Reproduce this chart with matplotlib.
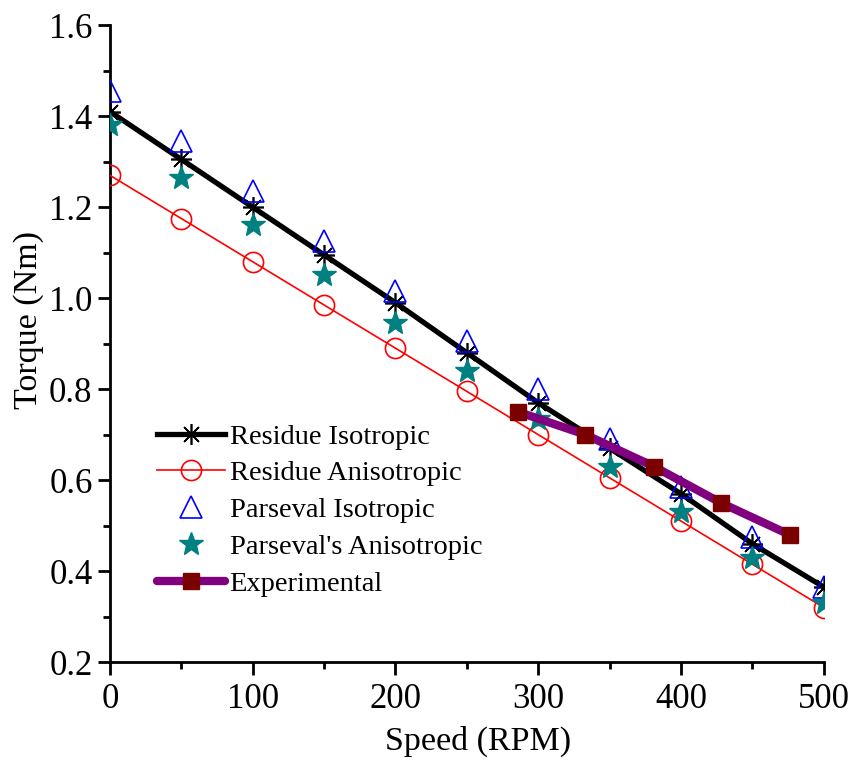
import matplotlib
matplotlib.use('Agg')
import matplotlib.pyplot as plt
import numpy as np

plt.rcParams['font.family'] = ['Liberation Serif', 'DejaVu Serif']

speed = [0, 50, 100, 150, 200, 250, 300, 350, 400, 450, 500]
residue_iso = [1.41, 1.305, 1.20, 1.095, 0.99, 0.88, 0.77, 0.67, 0.57, 0.46, 0.365]
residue_aniso = [1.27, 1.175, 1.08, 0.985, 0.89, 0.795, 0.70, 0.605, 0.51, 0.415, 0.32]
parseval_iso = [1.455, 1.345, 1.235, 1.125, 1.015, 0.905, 0.80, 0.69, 0.585, 0.475, 0.365]
parseval_aniso = [1.38, 1.265, 1.16, 1.05, 0.945, 0.84, 0.735, 0.63, 0.53, 0.43, 0.33]
exp_speed = [286, 333, 381, 428, 476]
exp_torque = [0.75, 0.70, 0.63, 0.55, 0.48]

fig = plt.figure(figsize=(8.52, 7.62), dpi=100)
ax = fig.add_axes([0.129, 0.131, 0.838, 0.836])

ax.plot(speed, residue_iso, color='black', lw=3.8, marker=(8, 2, 0), ms=15,
        mec='black', mew=1.2, label='Residue Isotropic', zorder=3)
ax.plot(speed, residue_aniso, color='red', lw=1.2, marker='o', ms=14.5,
        mfc='none', mec='red', mew=1.2, label='Residue Anisotropic', zorder=3)
ax.plot(speed, parseval_iso, ls='none', marker='^', ms=15.5,
        mfc='none', mec='blue', mew=1.2, label='Parseval Isotropic', zorder=4)
ax.plot(speed, parseval_aniso, ls='none', marker='*', ms=18,
        mfc='#008080', mec='#008080', label="Parseval's Anisotropic", zorder=4)
ax.plot(exp_speed, exp_torque, color='#800080', lw=6, solid_capstyle='round',
        marker='s', ms=12, mfc='#7b0000', mec='#7b0000',
        label='Experimental', zorder=5)

ax.set_xlim(0, 500)
ax.set_ylim(0.2, 1.6)
ax.set_xticks(np.arange(0, 501, 100))
ax.set_xticks(np.arange(50, 500, 100), minor=True)
ax.set_yticks(np.arange(0.2, 1.61, 0.2))
ax.set_yticks(np.arange(0.3, 1.6, 0.2), minor=True)
ax.yaxis.set_major_formatter(matplotlib.ticker.FormatStrFormatter('%.1f'))

for side in ['top', 'right']:
    ax.spines[side].set_visible(False)
for side in ['left', 'bottom']:
    ax.spines[side].set_linewidth(2)
ax.tick_params(which='major', direction='out', length=9, width=2, labelsize=25)
ax.tick_params(axis='x', which='major', pad=6)
ax.tick_params(which='minor', direction='out', length=5, width=2)

ax.set_xlabel('Speed (RPM)', fontsize=24.5)
ax.set_ylabel('Torque (Nm)', fontsize=24.5)
ax.xaxis.set_label_coords(0.515, -0.1)
ax.yaxis.set_label_coords(-0.092, 0.537)

ax.legend(loc='lower left', bbox_to_anchor=(0.05, 0.085), frameon=False,
          fontsize=20.5, handlelength=2.4, handletextpad=0.15, labelspacing=0.38,
          borderaxespad=0)

fig.savefig('out.png', dpi=100)
